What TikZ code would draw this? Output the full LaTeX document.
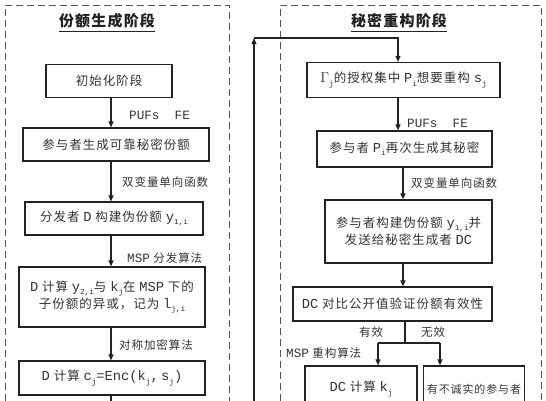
\documentclass[tikz,border=0pt]{standalone}
\usepackage{fontspec}
\setmainfont{Noto Sans CJK SC}[LetterSpace=8]
\newfontfamily\monof{Liberation Mono}[Scale=1.1]
\usetikzlibrary{arrows.meta}
\newcommand{\lat}[1]{{\monof #1}}
\newcommand{\dn}[1]{\raisebox{-0.45ex}{\fontsize{7}{8}\selectfont\monof #1}}
\definecolor{ink}{HTML}{222222}
\definecolor{txt}{HTML}{333333}
\definecolor{panel}{HTML}{555555}
\begin{document}
\begin{tikzpicture}[x=1pt,y=-1pt,
  bx/.style={draw=ink,line width=1.2pt,rectangle,inner sep=0pt,align=center,text=txt,
    font=\fontsize{12.5}{17}\selectfont},
  lab/.style={inner sep=0pt,anchor=west,text=txt,font=\fontsize{11.5}{14}\selectfont},
  ttl/.style={inner sep=0pt,text=ink,font=\fontsize{15}{18}\selectfont\bfseries},
  pnl/.style={draw=panel,line width=1pt,dash pattern=on 7pt off 4pt},
  arr/.style={draw=ink,line width=1.1pt,-{Triangle[length=6pt,width=5pt]}},
  ln/.style={draw=ink,line width=1.1pt}]
\useasboundingbox (0,0) rectangle (546,400);
% panels
\draw[pnl] (5,412) -- (5,5) -- (229,5) -- (229,412);
\draw[pnl] (280,412) -- (280,5) -- (541,5) -- (541,412);
% titles
\node[ttl] (t1) at (107,21) {份额生成阶段};
\draw[ink,line width=0.9pt] ([yshift=-3pt]t1.south west) -- ([yshift=-3pt]t1.south east);
\node[ttl] (t2) at (399,21) {秘密重构阶段};
\draw[ink,line width=0.9pt] ([yshift=-3pt]t2.south west) -- ([yshift=-3pt]t2.south east);
% left chain
\coordinate (ax) at (111,0);
\node[bx,minimum width=126pt,minimum height=33pt] (L1) at (109,81) {初始化阶段};
\node[bx,minimum width=186pt,minimum height=33pt] (L2) at (116,144.5) {参与者生成可靠秘密份额};
\node[bx,minimum width=178pt,minimum height=33pt] (L3) at (114,218.5) {分发者 \lat{D} 构建伪份额 \lat{y}\dn{1,i}};
\node[bx,minimum width=186pt,minimum height=60pt] (L4) at (112,297) {\lat{D} 计算 \lat{y}\dn{2,i}与 \lat{k}\dn{j}在 \lat{MSP} 下的\\子份额的异或，记为 \lat{l}\dn{j,i}};
\node[bx,minimum width=186pt,minimum height=34pt] (L5) at (112,378) {\lat{D} 计算 \lat{c}\dn{j}\lat{=Enc(k}\dn{j}\lat{,\,s}\dn{j}\lat{)}};
\coordinate (Lend) at (111,402);
\draw[arr] (L1.south -| ax) -- (L2.north -| ax);
\draw[arr] (L2.south -| ax) -- (L3.north -| ax);
\draw[arr] (L3.south -| ax) -- (L4.north -| ax);
\draw[arr] (L4.south -| ax) -- (L5.north -| ax);
\draw[ln] (L5.south -| ax) -- (Lend);
\node[lab] (a1) at (129,115) {\lat{PUFs\ \ FE}};
\node[lab] (a2) at (122,182) {双变量单向函数};
\node[lab] (a3) at (127,258) {\lat{MSP} 分发算法};
\node[lab] (a4) at (119,345) {对称加密算法};
% right chain
\coordinate (rx1) at (398,0);
\coordinate (rx2) at (403,0);
\coordinate (rx3) at (405,0);
\node[bx,minimum width=193pt,minimum height=35pt] (R1) at (403.5,80) {{\fontsize{14}{14}\selectfont$\Gamma$}\dn{j}的授权集中 \lat{P}\dn{i}想要重构 \lat{s}\dn{j}};
\node[bx,minimum width=175pt,minimum height=36pt] (R2) at (404.5,149) {参与者 \lat{P}\dn{i}再次生成其秘密};
\node[bx,minimum width=167pt,minimum height=63pt] (R3) at (408.5,231.5) {参与者构建伪份额 \lat{y}\dn{1,i}并\\发送给秘密生成者 \lat{DC}};
\node[bx,minimum width=199pt,minimum height=34pt] (R4) at (392.5,304) {\lat{DC} 对比公开值验证份额有效性};
\node[bx,minimum width=112pt,minimum height=46pt] (R5) at (361,389) {\lat{DC} 计算 \lat{k}\dn{j}};
\node[bx,minimum width=101pt,minimum height=46pt,font=\fontsize{11}{13}\selectfont] (R6) at (474,389) {有不诚实的参与者};
% feedback line
\coordinate (fb0) at (254,402);
\coordinate (fb1) at (254,38);
\draw[arr] (fb0) -- (fb1);
\draw[arr] (fb1) -| (R1.north -| rx1);
\draw[arr] (R1.south -| rx1) -- (R2.north -| rx1);
\draw[arr] (R2.south -| rx2) -- (R3.north -| rx2);
\draw[arr] (R3.south -| rx2) -- (R4.north -| rx2);
% split
\coordinate (sp) at (405,343);
\coordinate (spl) at (378,343);
\coordinate (spr) at (440,343);
\draw[ln] (R4.south -| rx3) -- (sp);
\draw[ln] (spl) -- (spr);
\draw[arr] (spl) -- (R5.north -| spl);
\draw[arr] (spr) -- (R6.north -| spr);
\node[lab] (b0) at (407,123) {\lat{PUFs\ \ FE}};
\node[lab] (b1) at (411,183) {双变量单向函数};
\node[lab] (b2) at (359,332) {有效};
\node[lab] (b3) at (421,332) {无效};
\node[lab] (b4) at (286,353) {\lat{MSP}\ 重构算法};
\end{tikzpicture}
\end{document}
